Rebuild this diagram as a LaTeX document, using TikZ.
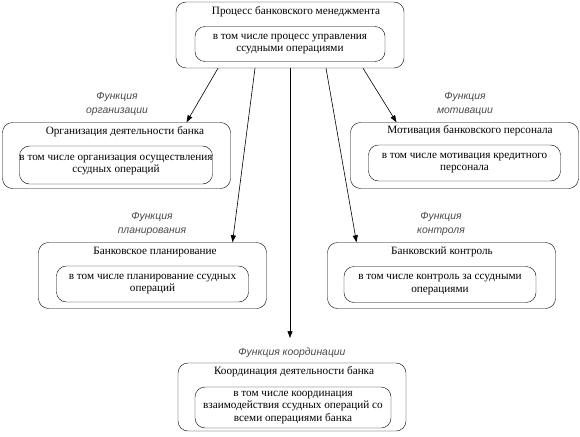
\documentclass[tikz,border=0pt]{standalone}
\usepackage{fontspec}
\setmainfont{Liberation Serif}
\setsansfont{Liberation Sans}
\usetikzlibrary{arrows.meta}
\definecolor{label-gray}{HTML}{4A4A4A}

\begin{document}
\begin{tikzpicture}[x=1pt, y=-1pt,
    outerbox/.style={draw, minimum width=228pt, minimum height=66pt, rounded corners=10pt},
    innerbox/.style={draw, minimum width=192pt, minimum height=36pt, rounded corners=10pt,
                     inner sep=0pt, align=center, font=\fontsize{11.2}{12.8}\selectfont},
    boxtitle/.style={font=\fontsize{11.2}{12.8}\selectfont},
    funclabel/.style={align=center, text=label-gray, font=\sffamily\itshape\fontsize{10.4}{14}\selectfont},
    arr/.style={-{Triangle[length=7pt, width=5pt]}, line width=0.6pt}]
    \useasboundingbox (0,0) rectangle (580,436);
    \node[outerbox] (mgmt) at (290,35) {};
    \node[boxtitle] (mgmt-title) at (296,12) {Процесс банковского менеджмента};
    \node[innerbox, minimum width=190pt, minimum height=35pt] (mgmt-inner) at (290,44)
          {в том числе процесс управления\\ ссудными операциями};

    \node[outerbox] (org) at (116.5,155.5) {};
    \node[boxtitle] (org-title) at (125,132) {Организация деятельности банка};
    \node[innerbox, minimum height=38pt] (org-inner) at (116,165)
          {в том числе организация осуществления\\ ссудных операций};
    \node[funclabel] (org-label) at (117,104) {Функция\\ организации};

    \node[outerbox] (motiv) at (464.5,155.5) {};
    \node[boxtitle] (motiv-title) at (470,131) {Мотивация банковского персонала};
    \node[innerbox] (motiv-inner) at (464.5,163)
          {в том числе мотивация кредитного\\ персонала};
    \node[funclabel] (motiv-label) at (465,104) {Функция\\ мотивации};

    \node[outerbox] (plan) at (152.5,275.5) {};
    \node[boxtitle] (plan-title) at (155,252) {Банковское планирование};
    \node[innerbox] (plan-inner) at (152.5,284)
          {в том числе планирование ссудных\\ операций};
    \node[funclabel] (plan-label) at (152,224) {Функция\\ планирования};

    \node[outerbox] (ctrl) at (441.5,275.5) {};
    \node[boxtitle] (ctrl-title) at (442,252) {Банковский контроль};
    \node[innerbox] (ctrl-inner) at (440,284.5)
          {в том числе контроль за ссудными\\ операциями};
    \node[funclabel] (ctrl-label) at (441,224) {Функция\\ контроля};

    \node[outerbox, minimum height=68pt] (coord) at (292,397) {};
    \node[boxtitle] (coord-title) at (294,372) {Координация деятельности банка};
    \node[innerbox, minimum width=196pt, minimum height=41pt] (coord-inner) at (293,407.5)
          {в том числе координация\\ взаимодействия ссудных операций со\\ всеми операциями банка};
    \node[funclabel] (coord-label) at (292,353) {Функция координации};
    \coordinate (coord-arrow) at (290,338);

    \draw[arr] ([xshift=-72pt]mgmt.south) -- ([xshift=70pt]org.north);
    \draw[arr] ([xshift=-35pt]mgmt.south) -- ([xshift=80pt]plan.north);
    \draw[arr] (mgmt.south) -- (coord-arrow);
    \draw[arr] ([xshift=36pt]mgmt.south) -- ([xshift=-85pt]ctrl.north);
    \draw[arr] ([xshift=73pt]mgmt.south) -- ([xshift=-68pt]motiv.north);
\end{tikzpicture}
\end{document}
